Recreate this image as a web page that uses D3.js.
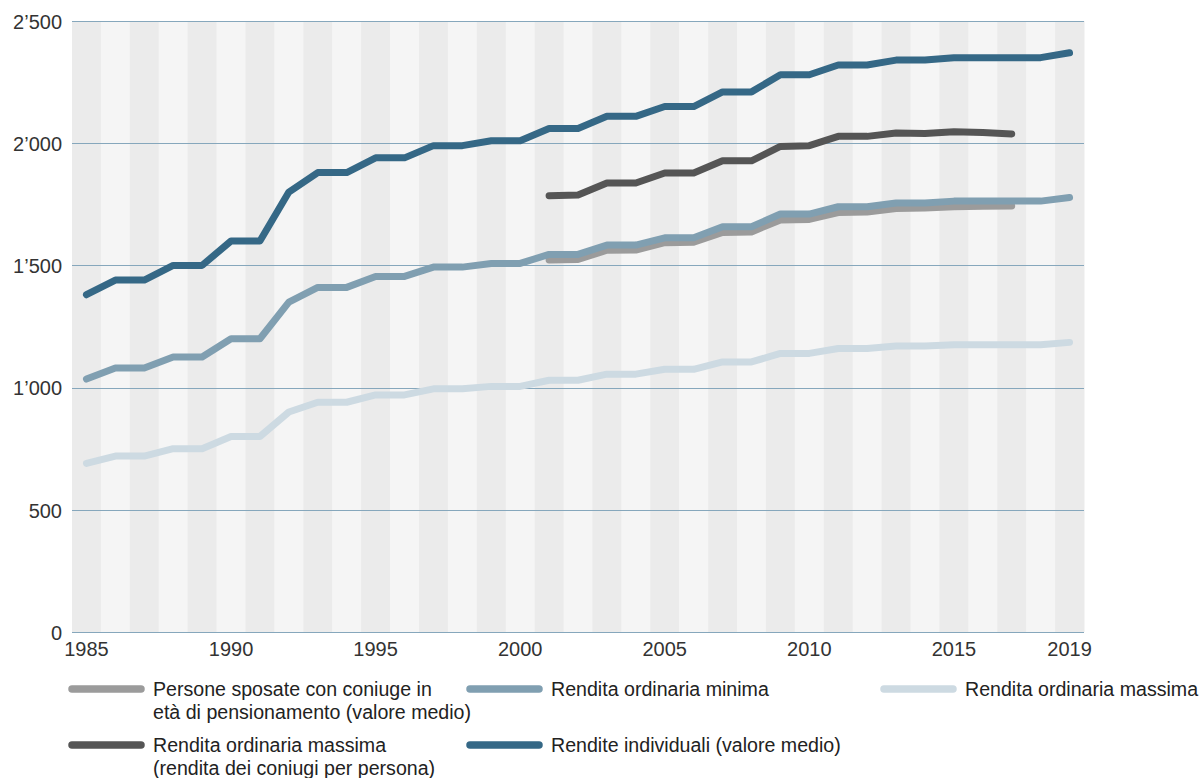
<!DOCTYPE html>
<html>
<head>
<meta charset="utf-8">
<script src="https://cdn.jsdelivr.net/npm/d3@7"></script>
<style>
  html, body { margin: 0; padding: 0; background: #ffffff; }
  svg { display: block; font-family: "Liberation Sans", Arial, sans-serif; }
</style>
</head>
<body>
<svg id="chart" width="1203" height="778"></svg>
<script>
// Years shown on the x axis (one band per year)
const years = d3.range(1985, 2020);
const xTickLabels = [1985, 1990, 1995, 2000, 2005, 2010, 2015, 2019];
const yTickValues = [0, 500, 1000, 1500, 2000, 2500];

// Monthly amounts in CHF
const renditeIndividuali = [1380, 1440, 1440, 1500, 1500, 1600, 1600, 1800, 1880, 1880, 1940, 1940, 1990, 1990, 2010, 2010, 2060, 2060, 2110, 2110, 2150, 2150, 2210, 2210, 2280, 2280, 2320, 2320, 2340, 2340, 2350, 2350, 2350, 2350, 2370];
const renditaMinima = [1035, 1080, 1080, 1125, 1125, 1200, 1200, 1350, 1410, 1410, 1455, 1455, 1493, 1493, 1508, 1508, 1545, 1545, 1583, 1583, 1613, 1613, 1658, 1658, 1710, 1710, 1740, 1740, 1755, 1755, 1763, 1763, 1763, 1763, 1778];
const renditaMassima = [690, 720, 720, 750, 750, 800, 800, 900, 940, 940, 970, 970, 995, 995, 1005, 1005, 1030, 1030, 1055, 1055, 1075, 1075, 1105, 1105, 1140, 1140, 1160, 1160, 1170, 1170, 1175, 1175, 1175, 1175, 1185];
// Series available from 2001 to 2017
const partialYears = d3.range(2001, 2018);
const renditaConiugi = [1785, 1788, 1837, 1837, 1878, 1878, 1928, 1928, 1987, 1990, 2028, 2028, 2042, 2040, 2047, 2044, 2038];
const personeSposate = [1522, 1524, 1562, 1563, 1593, 1595, 1635, 1637, 1686, 1688, 1716, 1718, 1733, 1735, 1740, 1742, 1743];

const seriesNames = [
  ["Persone sposate con coniuge in", "età di pensionamento (valore medio)"],
  ["Rendita ordinaria minima"],
  ["Rendita ordinaria massima"],
  ["Rendita ordinaria massima", "(rendita dei coniugi per persona)"],
  ["Rendite individuali (valore medio)"]
];
const seriesColors = ["#9b9b9b", "#809fb1", "#cddae2", "#555555", "#356886"];

const series = [
  { years: partialYears, values: personeSposate },
  { years: years, values: renditaMinima },
  { years: years, values: renditaMassima },
  { years: partialYears, values: renditaConiugi },
  { years: years, values: renditeIndividuali }
].map((s, i) => ({
  name: seriesNames[i],
  color: seriesColors[i],
  points: s.years.map((yr, j) => ({ year: yr, value: s.values[j] }))
}));

const svg = d3.select("#chart");
const margin = { left: 72, right: 1084, top: 21, bottom: 632 };

const x = d3.scaleBand().domain(years).range([margin.left, margin.right]).padding(0);
const y = d3.scaleLinear().domain([0, 2500]).range([margin.bottom, margin.top]);

const locale = d3.formatLocale({ decimal: ".", thousands: "\u2019", grouping: [3], currency: ["", ""] });
const fmt = locale.format(",");

// Alternating year bands
svg.append("g").selectAll("rect")
  .data(years)
  .join("rect")
  .attr("x", d => x(d))
  .attr("y", margin.top)
  .attr("width", x.bandwidth() + 0.5)
  .attr("height", margin.bottom - margin.top)
  .attr("fill", (d, i) => i % 2 === 0 ? "#ebebeb" : "#f5f5f5");

// Horizontal grid lines
svg.append("g")
  .attr("shape-rendering", "crispEdges")
  .selectAll("line")
  .data(yTickValues)
  .join("line")
  .attr("x1", margin.left)
  .attr("x2", margin.right)
  .attr("y1", d => Math.round(y(d)) + 0.5)
  .attr("y2", d => Math.round(y(d)) + 0.5)
  .attr("stroke", "#86a7bc")
  .attr("stroke-width", 1);

// Y axis labels
const yAxis = d3.axisLeft(y).tickValues(yTickValues).tickFormat(fmt).tickSize(0).tickPadding(10);
svg.append("g")
  .attr("transform", `translate(${margin.left},0)`)
  .call(yAxis)
  .call(g => g.select(".domain").remove())
  .call(g => g.selectAll("text")
    .attr("font-family", "Liberation Sans, Arial, sans-serif")
    .attr("font-size", 20)
    .attr("fill", "#333333")
    .attr("dy", "0.36em"));

// X axis labels
const xAxis = d3.axisBottom(x).tickValues(xTickLabels).tickSize(0).tickPadding(10);
svg.append("g")
  .attr("transform", `translate(0,${margin.bottom})`)
  .call(xAxis)
  .call(g => g.select(".domain").remove())
  .call(g => g.selectAll("text")
    .attr("font-family", "Liberation Sans, Arial, sans-serif")
    .attr("font-size", 20)
    .attr("fill", "#333333"));

// Series lines
const line = d3.line()
  .x(d => x(d.year) + x.bandwidth() / 2)
  .y(d => y(d.value));

svg.append("g").selectAll("path")
  .data(series)
  .join("path")
  .attr("d", d => line(d.points))
  .attr("fill", "none")
  .attr("stroke", d => d.color)
  .attr("stroke-width", 7)
  .attr("stroke-linecap", "round")
  .attr("stroke-linejoin", "round");

// Legend
const legendPos = [
  { x: 72, y: 689 },
  { x: 470, y: 689 },
  { x: 884, y: 689 },
  { x: 72, y: 745 },
  { x: 470, y: 745 }
];
const legend = svg.append("g").selectAll("g")
  .data(series)
  .join("g")
  .attr("transform", (d, i) => `translate(${legendPos[i].x},${legendPos[i].y})`);

legend.append("line")
  .attr("x1", 0).attr("x2", 69)
  .attr("y1", 0).attr("y2", 0)
  .attr("stroke", d => d.color)
  .attr("stroke-width", 7.5)
  .attr("stroke-linecap", "round");

legend.append("text")
  .attr("x", 81)
  .attr("y", 0)
  .attr("font-size", 19.6)
  .attr("fill", "#222222")
  .selectAll("tspan")
  .data(d => d.name)
  .join("tspan")
  .attr("x", 81)
  .attr("dy", (d, i) => i === 0 ? "0.35em" : 23)
  .text(d => d);
</script>
</body>
</html>
